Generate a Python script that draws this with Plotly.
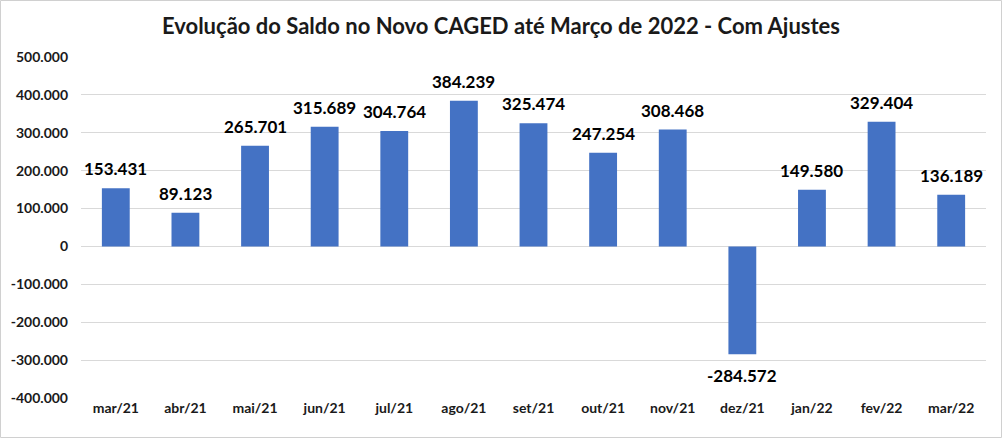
import plotly.graph_objects as go

categories = ["mar/21", "abr/21", "mai/21", "jun/21", "jul/21", "ago/21", "set/21",
              "out/21", "nov/21", "dez/21", "jan/22", "fev/22", "mar/22"]
saldo = [153431, 89123, 265701, 315689, 304764, 384239, 325474,
         247254, 308468, -284572, 149580, 329404, 136189]
y_ticks = [500000, 400000, 300000, 200000, 100000, 0, -100000, -200000, -300000, -400000]


def fmt(v):
    s = f"{abs(v):,}".replace(",", ".")
    return ("-" if v < 0 else "") + s


FONT = "Lato, Open Sans, sans-serif"

fig = go.Figure(go.Bar(
    x=categories, y=saldo,
    marker=dict(color="#4472C4", line=dict(width=0)),
    cliponaxis=False,
    width=0.4,
    hoverinfo="skip",
))

annotations = []
for c, v in zip(categories, saldo):
    annotations.append(dict(
        x=c, y=v, xref="x", yref="y", text=f"<b>{fmt(v)}</b>", showarrow=False,
        yanchor="bottom" if v >= 0 else "top",
        yshift=7 if v >= 0 else -9,
        font=dict(family=FONT, size=17, color="#000000"),
    ))

L, R, T, B = 81, 16, 57, 40
W, H = 1002, 438
pw, ph = W - L - R, H - T - B

fig.update_layout(
    width=W, height=H,
    margin=dict(l=L, r=R, t=T, b=B),
    paper_bgcolor="white", plot_bgcolor="white",
    separators=",.",
    showlegend=False,
    annotations=annotations,
    title=dict(text="<b>Evolução do Saldo no Novo CAGED até Março de 2022 - Com Ajustes</b>",
               x=0.5, xanchor="center", y=1 - 26 / H, yanchor="middle",
               font=dict(family=FONT, size=22, color="#1a1a1a")),
    xaxis=dict(showgrid=False, showline=False, ticks="",
               tickfont=dict(family=FONT, size=14, color="#1a1a1a", weight="bold")),
    yaxis=dict(range=[-400000, 500000], tickvals=y_ticks,
               ticktext=[fmt(v) for v in y_ticks],
               showgrid=True, gridcolor="#d9d9d9", gridwidth=1,
               zeroline=True, zerolinecolor="#d9d9d9", zerolinewidth=1,
               showline=False, ticks="", ticklabelstandoff=12,
               tickfont=dict(family=FONT, size=14, color="#1a1a1a", weight="bold")),
    shapes=[dict(type="rect", xref="paper", yref="paper",
                 x0=(0.5 - L) / pw, x1=(W - 0.5 - L) / pw,
                 y0=(H - B - (H - 0.5)) / ph, y1=(H - B - 0.5) / ph,
                 line=dict(color="#d0d0d0", width=1), layer="below")],
)

fig.write_html("out.html", config={"displayModeBar": False},
               post_script="document.body.style.margin='0';document.body.style.overflow='hidden';")
